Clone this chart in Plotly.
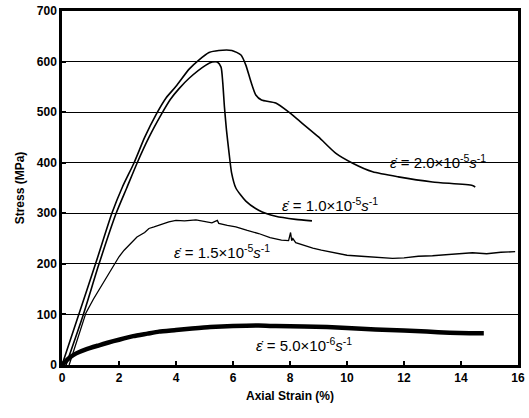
import plotly.graph_objects as go

# strain rate 2.0e-5 /s
x20 = [0, 0.6, 1.2, 1.75, 2.12, 2.53, 2.9, 3.3, 3.65, 4.0, 4.46, 4.8, 5.16, 5.5, 5.96, 6.28, 6.45, 6.63, 6.8, 7.0, 7.5, 7.96, 8.3, 9.0, 9.6, 10.2, 10.9, 11.8, 13.0, 14.4, 14.5]
y20 = [0, 102, 204, 300, 352, 400, 450, 495, 528, 551, 585, 603, 618, 622, 622, 613, 593, 560, 534, 524, 518, 500, 484, 451, 419, 399, 382, 372, 362, 355, 352]

# strain rate 1.0e-5 /s
x10 = [0.14, 0.75, 1.3, 1.9, 2.27, 2.64, 3.05, 3.5, 3.8, 4.1, 4.46, 5.05, 5.27, 5.45, 5.58, 5.64, 5.7, 5.77, 5.86, 5.95, 6.1, 6.45, 6.9, 7.5, 8.2, 8.77]
y10 = [0, 100, 200, 300, 350, 400, 450, 497, 525, 546, 567, 593, 599, 599, 589, 559, 510, 465, 420, 380, 350, 324, 306, 294, 288, 285]

# strain rate 1.5e-5 /s (noisy record)
x15 = [0.25, 0.55, 0.84, 1.1, 1.4, 1.6, 1.82, 2.0, 2.18, 2.4, 2.63, 2.9, 3.05, 3.23, 3.5, 3.75, 4.0, 4.3, 4.7, 5.0, 5.26, 5.45, 5.5, 5.8, 6.1, 6.5, 6.9, 7.3, 7.7, 7.95, 8.02, 8.06, 8.1, 8.2, 8.5, 8.8, 9.1, 9.5, 10.0, 10.5, 11.0, 11.6, 12.0, 12.5, 13.0, 13.5, 13.9, 14.4, 14.9, 15.4, 15.9]
y15 = [0, 52, 103, 130, 158, 177, 198, 214, 227, 240, 253, 262, 270, 273, 279, 283, 286, 285, 287, 284, 281, 286, 280, 276, 273, 266, 260, 252, 247, 246, 262, 246, 250, 242, 236, 231, 227, 222, 217, 215, 213, 211, 212, 215, 216, 218, 221, 222, 220, 223, 224]

# strain rate 5.0e-6 /s (noisy record)
x50 = [0, 0.25, 0.5, 0.84, 1.3, 1.6, 2.0, 2.5, 3.0, 3.4, 4.0, 4.56, 5.2, 6.0, 6.9, 7.5, 8.5, 9.3, 10.0, 11.0, 12.0, 12.8, 13.6, 14.3, 14.8]
y50 = [0, 14, 23, 31, 39, 44, 50, 57, 62, 66, 69, 72, 75, 77, 78, 77, 76, 75, 73, 70, 68, 66, 64, 63, 63]

labels = ["2.0", "1.0", "1.5", "5.0"]
exps = ["-5", "-5", "-5", "-6"]
label_x = [13.2, 9.4, 5.6, 8.5]
label_y = [402, 318, 224, 40]

xticks = [0, 2, 4, 6, 8, 10, 12, 14, 16]
yticks = [0, 100, 200, 300, 400, 500, 600, 700]

FONT = "Arial, Liberation Sans"

fig = go.Figure()
fig.add_trace(go.Scatter(x=x20, y=y20, mode="lines", line=dict(color="black", width=1.6, shape="spline", smoothing=0.6)))
fig.add_trace(go.Scatter(x=x10, y=y10, mode="lines", line=dict(color="black", width=1.6, shape="spline", smoothing=0.6)))
fig.add_trace(go.Scatter(x=x15, y=y15, mode="lines", line=dict(color="black", width=1.3)))
fig.add_trace(go.Scatter(x=x50, y=y50, mode="lines", line=dict(color="black", width=4.5, shape="spline", smoothing=0.5)))

for lab, ex, lx, ly in zip(labels, exps, label_x, label_y):
    fig.add_annotation(
        x=lx, y=ly, xref="x", yref="y", showarrow=False,
        text=f"<i>\u03b5\u0307</i> = {lab}\u00d710<sup>{ex}</sup><i>s</i><sup>-1</sup>",
        font=dict(family=FONT, size=15, color="black"),
    )

axis_common = dict(
    showline=True, linecolor="black", linewidth=2.5, mirror=True,
    ticks="inside", ticklen=4, tickcolor="black", tickwidth=1.5,
    tickfont=dict(family=FONT, size=12, color="black"),
    zeroline=False, automargin=False, ticklabeloverflow="allow",
)
fig.update_xaxes(range=[0, 16], tickvals=xticks, ticktext=[f"<b>{v}</b>" for v in xticks], showgrid=False,
                 title=dict(text="<b>Axial Strain (%)</b>", font=dict(family=FONT, size=12, color="black"), standoff=8),
                 **axis_common)
fig.update_yaxes(range=[0, 700], tickvals=yticks, ticktext=[f"<b>{v}</b>" for v in yticks], showgrid=True, gridcolor="black", gridwidth=1,
                 title=dict(text="<b>Stress (MPa)</b>", font=dict(family=FONT, size=12, color="black"), standoff=10),
                 **axis_common)
fig.update_layout(
    width=529, height=418, showlegend=False,
    margin=dict(l=62, r=11, t=11, b=53),
    plot_bgcolor="white", paper_bgcolor="white",
)
fig.write_html("out.html", config={"displayModeBar": False},
               post_script="document.body.style.margin='0';")
